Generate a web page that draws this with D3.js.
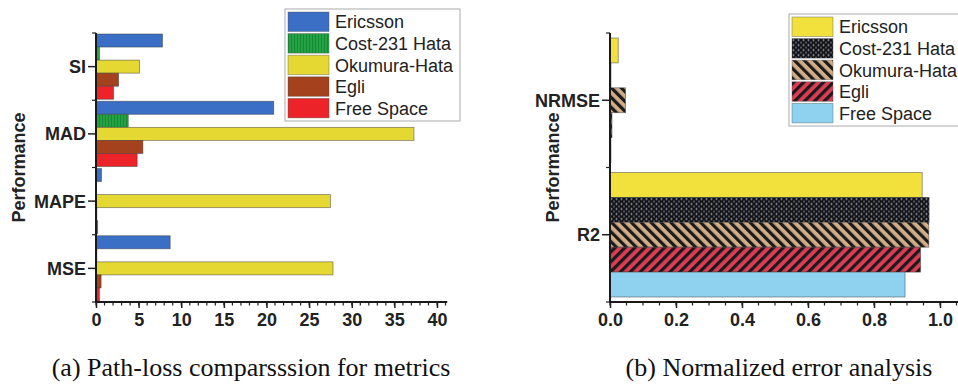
<!DOCTYPE html>
<html>
<head>
<meta charset="utf-8">
<script src="https://cdn.jsdelivr.net/npm/d3@7"></script>
<style>
  body { margin: 0; background: #fff; }
  svg { display: block; }
  .tick-lbl { font-family: "Liberation Sans", Arial, sans-serif; font-weight: bold; font-size: 18px; fill: #222; }
  .leg-lbl { font-family: "Liberation Sans", Arial, sans-serif; font-size: 18px; fill: #222; }
  .caption { font-family: "Liberation Serif", "Times New Roman", serif; font-size: 26px; fill: #111; }
</style>
</head>
<body>
<div id="chart"></div>
<script>
// series (same five models in both panels)
const seriesNames = ["Ericsson", "Cost-231 Hata", "Okumura-Hata", "Egli", "Free Space"];

// panel (a) path-loss metrics
const metricsA = ["SI", "MAD", "MAPE", "MSE"];
const ericssonA = [7.8, 20.85, 0.65, 8.7];
const costA = [0.4, 3.78, 0.05, 0.1];
const okumuraA = [5.1, 37.3, 27.5, 27.8];
const egliA = [2.65, 5.5, 0.1, 0.6];
const freeSpaceA = [2.07, 4.83, 0.2, 0.4];
const xTicksA = [0, 5, 10, 15, 20, 25, 30, 35, 40];

// panel (b) normalized errors
const metricsB = ["NRMSE", "R2"];
const ericssonB = [0.025, 0.946];
const costB = [0.003, 0.967];
const okumuraB = [0.047, 0.966];
const egliB = [0.006, 0.941];
const freeSpaceB = [0.003, 0.894];
const xTicksB = [0, 0.2, 0.4, 0.6, 0.8, 1.0];

const W = 958, H = 387;

const svg = d3.select("#chart").append("svg")
  .attr("width", W)
  .attr("height", H);

// patterns
const defs = svg.append("defs");

let p = defs.append("pattern").attr("id", "greenStripe")
  .attr("patternUnits", "userSpaceOnUse").attr("width", 3).attr("height", 3);
p.append("rect").attr("width", 3).attr("height", 3).attr("fill", "#25a244");
p.append("rect").attr("width", 1).attr("height", 3).attr("fill", "#138a33");

p = defs.append("pattern").attr("id", "dots")
  .attr("patternUnits", "userSpaceOnUse").attr("width", 5).attr("height", 5);
p.append("rect").attr("width", 5).attr("height", 5).attr("fill", "#111");
p.append("circle").attr("cx", 1.5).attr("cy", 1.5).attr("r", 1).attr("fill", "#9aa0b8");
p.append("circle").attr("cx", 4).attr("cy", 4).attr("r", 0.9).attr("fill", "#6a7088");

p = defs.append("pattern").attr("id", "tanStripe")
  .attr("patternUnits", "userSpaceOnUse").attr("width", 7).attr("height", 7)
  .attr("patternTransform", "rotate(-45)");
p.append("rect").attr("width", 7).attr("height", 7).attr("fill", "#d2ae88");
p.append("rect").attr("width", 3.2).attr("height", 7).attr("fill", "#1a1a1a");

p = defs.append("pattern").attr("id", "redStripe")
  .attr("patternUnits", "userSpaceOnUse").attr("width", 7).attr("height", 7)
  .attr("patternTransform", "rotate(45)");
p.append("rect").attr("width", 7).attr("height", 7).attr("fill", "#de3c55");
p.append("rect").attr("width", 3.2).attr("height", 7).attr("fill", "#1a1a1a");

const fillsA = ["#3b6fc6", "url(#greenStripe)", "#e6d832", "#a3421c", "#ec2328"];
const fillsB = ["#f2e13c", "url(#dots)", "url(#tanStripe)", "url(#redStripe)", "#8fd2f0"];

function drawPanel(o) {
  const g = svg.append("g");
  const rows = o.metrics.map((m, i) => ({
    metric: m,
    values: o.series.map((s, j) => ({ key: seriesNames[j], value: s[i], idx: j }))
  }));

  const x = d3.scaleLinear().domain([0, o.xMax]).range([o.x0, o.x1]);
  const y = d3.scaleBand().domain(o.metrics).range([o.top, o.bottom]).padding(0);
  const yInner = d3.scaleBand().domain(seriesNames)
    .range([o.innerPad, y.bandwidth() - o.innerPad]).padding(0);

  // bars
  const grp = g.selectAll("g.cat").data(rows).enter().append("g")
    .attr("class", "cat")
    .attr("transform", d => "translate(0," + y(d.metric) + ")");

  grp.selectAll("rect").data(d => d.values).enter().append("rect")
    .attr("x", x(0))
    .attr("y", d => yInner(d.key))
    .attr("width", d => Math.max(0, x(d.value) - x(0)))
    .attr("height", yInner.bandwidth())
    .attr("fill", d => o.fills[d.idx])
    .attr("stroke", "rgba(60,60,60,0.6)")
    .attr("stroke-width", 0.8);

  // x axis
  const xAxis = d3.axisBottom(x).tickValues(o.xTicks).tickFormat(o.fmt).tickSize(6).tickSizeOuter(0);
  const xa = g.append("g").attr("transform", "translate(0," + o.bottom + ")").call(xAxis);
  xa.select(".domain").remove();
  xa.selectAll(".tick line").attr("stroke", "#222").attr("stroke-width", 1.5);
  xa.selectAll(".tick text").attr("class", "tick-lbl").attr("dy", "0.95em").attr("y", 7)
    .attr("font-family", null).attr("font-size", null);
  const minor = d3.range(0, o.axisEnd + 1e-9, o.minorStep);
  xa.selectAll("line.minor").data(minor).enter().append("line")
    .attr("class", "minor")
    .attr("x1", d => x(d)).attr("x2", d => x(d))
    .attr("y1", 0).attr("y2", 3.5)
    .attr("stroke", "#222").attr("stroke-width", 1.2);
  xa.append("line")
    .attr("x1", x(0) - 1).attr("x2", Math.min(W, x(o.axisEnd)))
    .attr("y1", 0).attr("y2", 0)
    .attr("stroke", "#1a1a1a").attr("stroke-width", 2);

  // y axis
  const yAxis = d3.axisLeft(y).tickSize(8).tickSizeOuter(0);
  const ya = g.append("g").attr("transform", "translate(" + x(0) + ",0)").call(yAxis);
  ya.select(".domain").remove();
  ya.selectAll(".tick line").attr("stroke", "#222").attr("stroke-width", 1.5);
  ya.selectAll(".tick text").attr("class", "tick-lbl").attr("x", -10).attr("dy", "0.36em")
    .attr("font-family", null).attr("font-size", null);
  const edges = o.metrics.map(m => y(m)).concat([o.bottom]);
  ya.selectAll("line.edge").data(edges).enter().append("line")
    .attr("class", "edge")
    .attr("x1", -4).attr("x2", 0)
    .attr("y1", d => d).attr("y2", d => d)
    .attr("stroke", "#222").attr("stroke-width", 1.2);
  ya.append("line")
    .attr("x1", 0).attr("x2", 0)
    .attr("y1", o.top).attr("y2", o.bottom + 1)
    .attr("stroke", "#1a1a1a").attr("stroke-width", 2);

  // axis title
  g.append("text")
    .attr("class", "tick-lbl")
    .attr("transform", "translate(" + o.titleX + "," + ((o.top + o.bottom) / 2) + ") rotate(-90)")
    .attr("text-anchor", "middle")
    .attr("dy", "0.36em")
    .text("Performance");

  // legend
  const lg = g.append("g").attr("transform", "translate(" + o.legX + "," + o.legY + ")");
  lg.append("rect")
    .attr("x", 0).attr("y", 0)
    .attr("width", o.legW).attr("height", 112)
    .attr("fill", "#fff").attr("stroke", "#aaa").attr("stroke-width", 1);
  const items = lg.selectAll("g.item").data(seriesNames).enter().append("g")
    .attr("class", "item")
    .attr("transform", (d, i) => "translate(3," + (3 + i * 21.6) + ")");
  items.append("rect")
    .attr("width", 41).attr("height", 19.5)
    .attr("fill", (d, i) => o.fills[i])
    .attr("stroke", "rgba(80,80,80,0.5)").attr("stroke-width", 0.8);
  items.append("text")
    .attr("class", "leg-lbl")
    .attr("x", 47).attr("y", 10).attr("dy", "0.36em")
    .text(d => d);

  // caption
  g.append("text")
    .attr("class", "caption")
    .attr("x", o.capX).attr("y", 376)
    .attr("text-anchor", "middle")
    .text(o.caption);
}

drawPanel({
  metrics: metricsA,
  series: [ericssonA, costA, okumuraA, egliA, freeSpaceA],
  fills: fillsA,
  xMax: 40, x0: 96, x1: 437, axisEnd: 41.2, minorStep: 1,
  xTicks: xTicksA, fmt: d3.format("d"),
  top: 33, bottom: 302, innerPad: 1,
  titleX: 19,
  legX: 285, legY: 9, legW: 175,
  capX: 251, caption: "(a) Path-loss comparsssion for metrics"
});

drawPanel({
  metrics: metricsB,
  series: [ericssonB, costB, okumuraB, egliB, freeSpaceB],
  fills: fillsB,
  xMax: 1, x0: 610, x1: 940, axisEnd: 1.06, minorStep: 0.05,
  xTicks: xTicksB, fmt: d3.format(".1f"),
  top: 33, bottom: 302, innerPad: 5,
  titleX: 553,
  legX: 789, legY: 14, legW: 190,
  capX: 779, caption: "(b) Normalized error analysis"
});
</script>
</body>
</html>
